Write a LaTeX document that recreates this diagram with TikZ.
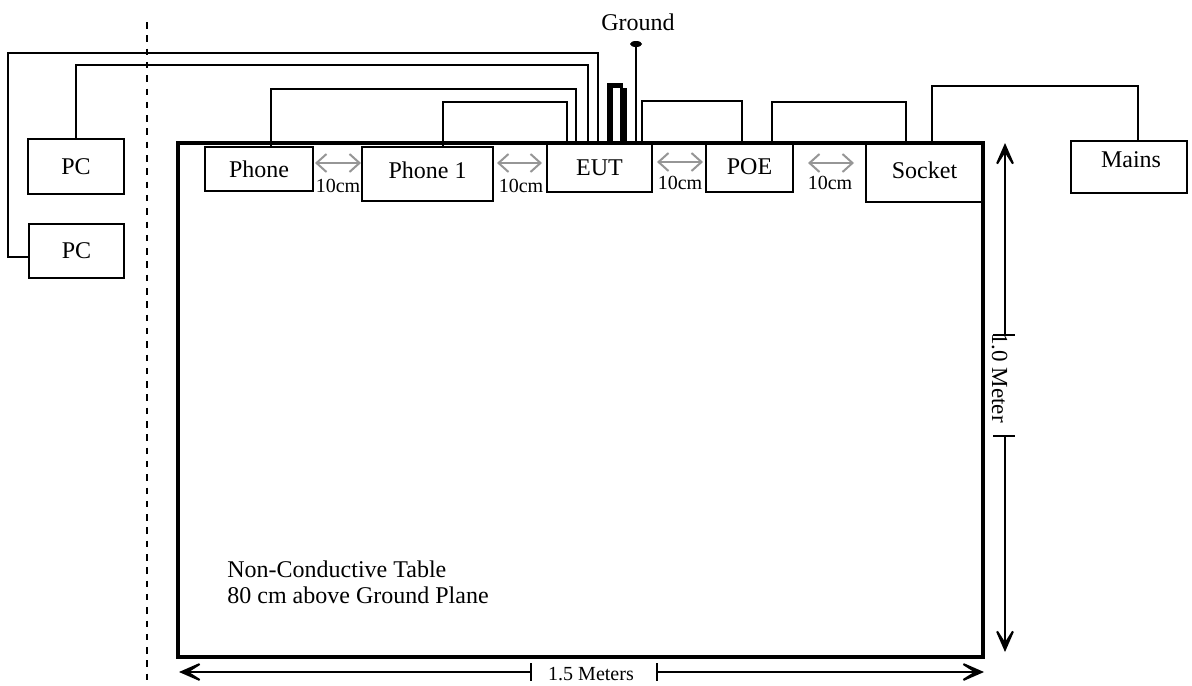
\documentclass[tikz,border=0pt]{standalone}
\usepackage{fontspec}
\setmainfont{Liberation Serif}
\usetikzlibrary{arrows.meta,shapes.geometric,calc}
\tikzset{
  box/.style={draw,line width=1pt,inner sep=0pt,font=\fontsize{12}{14}\selectfont},
  wire/.style={line width=0.8pt},
  dimgray/.style={draw={rgb,255:red,150;green,150;blue,150},line width=1pt,{Straight Barb[length=5pt,width=9pt]}-{Straight Barb[length=5pt,width=9pt]}},
  dimarrow/.style={line width=1pt,-{Stealth[length=16pt,width=14pt,inset=11pt]}},
  small/.style={font=\fontsize{10}{12}\selectfont,inner sep=0pt},
  lbl/.style={font=\fontsize{12}{14}\selectfont,inner sep=0pt}
}
\begin{document}
\begin{tikzpicture}[x=0.5pt,y=-0.5pt]
\useasboundingbox (0,0) rectangle (1192,685);
% table
\draw[line width=1.6pt] (178,143) rectangle (983,657);
% dashed separator
\draw[line width=1pt,dash pattern=on 3.25pt off 3.4pt] (147,22) -- (147,680);
% boxes
\node[box,minimum width=48pt,minimum height=27.5pt] (PCa) at (76,166.5) {PC};
\node[box,minimum width=47.5pt,minimum height=27pt] (PCb) at (76.5,251) {PC};
\node[box,minimum width=54pt,minimum height=22pt] (Phone) at (259,169) {Phone};
\node[box,minimum width=65.5pt,minimum height=27pt] (Phone1) at (427.5,174) {};
\node[lbl] at (427.5,170) {Phone 1};
\node[box,minimum width=52.5pt,minimum height=24pt] (EUT) at (599.5,168) {EUT};
\node[box,minimum width=43.5pt,minimum height=25pt] (POE) at (749.5,167) {POE};
\node[box,minimum width=58.5pt,minimum height=29pt] (Socket) at (924.5,173) {};
\node[lbl] at (924.5,170) {Socket};
\node[box,minimum width=58pt,minimum height=26pt] (Mains) at (1129,167) {};
\node[lbl] at (1131,160) {Mains};
% wires
\draw[wire] (EUT.north -| 598,0) |- (8,53) |- (PCb.west |- 0,257);
\draw[wire] (EUT.north -| 588,0) -- (588,65) -| (PCa.north);
\draw[wire] (EUT.north -| 576,0) -- (576,89) -| (Phone.north -| 271,0);
\draw[wire] (EUT.north -| 567,0) -- (567,102) -| (Phone1.north -| 443,0);
\draw[wire] (EUT.north -| 642,0) -- (642,101) -| (POE.north -| 742,0);
\draw[wire] (POE.north -| 772,0) -- (772,102) -| (Socket.north -| 906,0);
\draw[wire] (Socket.north -| 932,0) -- (932,86) -| (Mains.north -| 1138,0);
% ground
\node[fill,ellipse,minimum width=6pt,minimum height=3pt,inner sep=0pt] (gnd) at (636,44) {};
\draw[wire] (EUT.north -| 636,0) -- (gnd.center);
\node[lbl] (gl) at (638,22) {Ground};
% ground strap
\fill (607,83) rectangle (623,88);
\fill (607,88) rectangle (613,143);
\fill (620,88) rectangle (627,143);
% 10cm arrows
\draw[dimgray] (315,163) -- (361,163);
\draw[dimgray] (497,163) -- (542,163);
\draw[dimgray] (657,162) -- (703,162);
\draw[dimgray] (808,163) -- (854,163);
\node[small] at (338,186) {10cm};
\node[small] at (521,186) {10cm};
\node[small] at (680,183) {10cm};
\node[small] at (830,183) {10cm};
% vertical dimension
\draw[dimarrow] (1005,335) -- (1005,143);
\draw[dimarrow] (1005,436) -- (1005,652);
\draw[line width=1pt] (993,335) -- (1015,335);
\draw[line width=1pt] (993,436) -- (1015,436);
\node[rotate=-90,inner sep=0pt,font=\fontsize{11.5}{13}\selectfont] at (999.5,378) {1.0 Meter};
% horizontal dimension
\draw[dimarrow] (531,672) -- (179,672);
\draw[dimarrow] (657,672) -- (984,672);
\draw[line width=1pt] (531,663) -- (531,681);
\draw[line width=1pt] (657,663) -- (657,681);
\node[small] at (591,674) {1.5 Meters};
% table text
\node[lbl,anchor=base west,align=left,font=\fontsize{12}{13}\selectfont] at (227,603) {Non-Conductive Table\\80 cm above Ground Plane};
\end{tikzpicture}
\end{document}
